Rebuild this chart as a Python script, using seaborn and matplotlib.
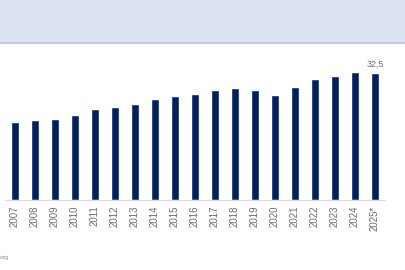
import matplotlib
matplotlib.use("Agg")
import matplotlib.pyplot as plt
import seaborn as sns
import pandas as pd
from matplotlib.patches import Rectangle

years = ["2007", "2008", "2009", "2010", "2011", "2012", "2013", "2014", "2015",
         "2016", "2017", "2018", "2019", "2020", "2021", "2022", "2023", "2024", "2025*"]
values = [19.9, 20.3, 20.6, 21.7, 23.2, 23.7, 24.5, 25.9, 26.5,
          27.1, 28.2, 28.7, 28.1, 26.7, 28.8, 30.9, 31.7, 32.6, 32.5]
last_label = "32,5"
source_text = "cing"

df = pd.DataFrame({"year": years, "value": values})

sns.set_theme(style="white")
plt.rcParams["font.family"] = ["Liberation Sans", "DejaVu Sans"]

W, H = 406, 270
fig = plt.figure(figsize=(W / 100, H / 100), dpi=100)
fig.patch.set_facecolor("white")

# top band
fig.patches.append(Rectangle((0, 1 - 42 / H), 1, 42 / H, transform=fig.transFigure,
                             facecolor="#dbe3f0", edgecolor="none", zorder=0))
fig.patches.append(Rectangle((0, 1 - 44 / H), 1, 2 / H, transform=fig.transFigure,
                             facecolor="#c6cde0", edgecolor="none", zorder=0))

left, right, bottom, top = 5, 385, 200, 50
ax = fig.add_axes([left / W, 1 - bottom / H, (right - left) / W, (bottom - top) / H])
ax.set_facecolor("none")
sns.barplot(data=df, x="year", y="value", color="#022061", width=0.42,
            saturation=1, ax=ax)
ax.set_xlim(-0.5, len(years) - 0.5)
ax.set_ylim(0, 150 / 3.917)
ax.set_xlabel("")
ax.set_ylabel("")
ax.set_yticks([])
for s in ["top", "right", "left"]:
    ax.spines[s].set_visible(False)
ax.spines["bottom"].set_color("#dcdcdc")
ax.spines["bottom"].set_linewidth(0.8)
ax.tick_params(axis="x", length=0, pad=4, labelsize=6.9, labelcolor="#6b6b6b",
               labelrotation=90)

ax.text(len(years) - 1, values[-1] + 1.0, last_label, ha="center", va="bottom",
        fontsize=6.4, color="#6b6b6b")

fig.text(0.0, 1 - 258 / H, source_text, fontsize=3.5, color="#8a8a8a",
         ha="left", va="center")

fig.savefig("out.png", dpi=100)
